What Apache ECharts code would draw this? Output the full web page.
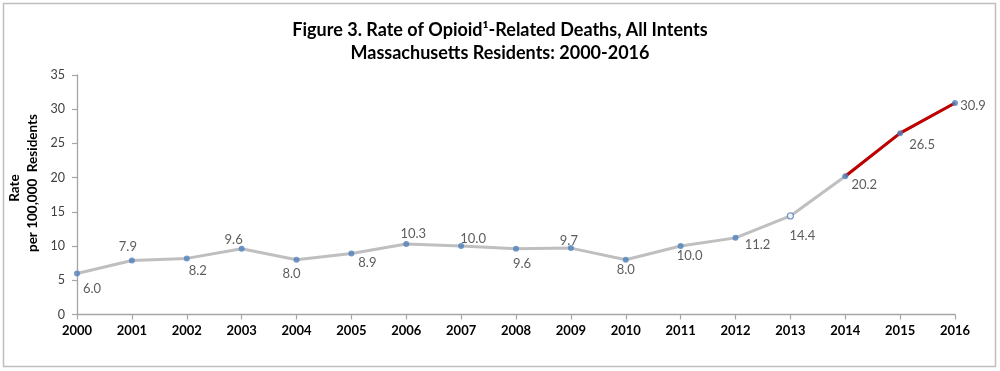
<!DOCTYPE html>
<html><head><meta charset="utf-8">
<script src="https://cdn.jsdelivr.net/npm/echarts@6/dist/echarts.min.js"></script>
<style>html,body{margin:0;padding:0;background:#fff}#c{width:1000px;height:371px}</style>
</head><body><div id="c"></div>
<script>
var years = ['2000','2001','2002','2003','2004','2005','2006','2007','2008','2009','2010','2011','2012','2013','2014','2015','2016'];
var rates = [6.0,7.9,8.2,9.6,8.0,8.9,10.3,10.0,9.6,9.7,8.0,10.0,11.2,14.4,20.2,26.5,30.9];
var redStart = 14; // 2014 onward drawn in red
var yTicks = [0,5,10,15,20,25,30,35];
// label offsets (style only): [dx, dy] from the point
var labelOffsets = [[15,15],[-4,-14],[11,12],[-8,-9],[-5,14],[16,9],[7,-10],[12,-7],[6,15],[-2,-7],[0,10],[9,10],[22,7],[12,20],[19,9],[22,12],[18,3]];
var hollow = [13];

var chart = echarts.init(document.getElementById('c'), null, {renderer:'canvas'});
var FONT = 'Lato';
var redData = rates.map(function(v,i){return i>=redStart? v : null;});
var pts = rates.map(function(v,i){
  var o = {value:v, label:{offset:labelOffsets[i]}};
  if (hollow.indexOf(i)>=0) o.itemStyle = {color:'#fff', borderColor:'#4F81BD', borderWidth:1.2};
  return o;
});
chart.setOption({
  animation:false,
  textStyle:{fontFamily:FONT},
  title:{
    text:'Figure 3. Rate of Opioid¹-Related Deaths, All Intents\nMassachusetts Residents: 2000-2016',
    left:'center', top:14,
    textStyle:{fontFamily:FONT, fontSize:18, fontWeight:'bold', color:'#000', lineHeight:23}
  },
  grid:{left:77, right:45, top:75, bottom:56.5, containLabel:false},
  xAxis:{
    type:'category', data:years, boundaryGap:false,
    axisLine:{lineStyle:{color:'#A6A6A6', width:1.3}},
    axisTick:{show:true, alignWithLabel:true, length:5, lineStyle:{color:'#A6A6A6', width:1.2}},
    axisLabel:{fontFamily:FONT, fontSize:13, fontWeight:'bold', color:'#000', margin:10}
  },
  yAxis:{
    type:'value', min:0, max:35, interval:5,
    axisLine:{show:true, lineStyle:{color:'#A6A6A6', width:1.3}},
    axisTick:{show:true, length:5, lineStyle:{color:'#A6A6A6', width:1.2}},
    splitLine:{show:false},
    axisLabel:{fontFamily:FONT, fontSize:12.5, color:'#404040', margin:12,
      formatter:function(v){return yTicks.indexOf(v)>=0? String(v):'';}}
  },
  graphic:[
    {type:'rect', shape:{x:3.5,y:3.5,width:992,height:363}, style:{fill:'none', stroke:'#BFBFBF', lineWidth:1.5}, silent:true},
    {type:'text', x:15, y:188, rotation:Math.PI/2, style:{text:'Rate', font:'bold 13.5px '+FONT, fill:'#000', align:'center', verticalAlign:'middle'}},
    {type:'text', x:33, y:183, rotation:Math.PI/2, style:{text:'per 100,000  Residents', font:'bold 13.5px '+FONT, fill:'#000', align:'center', verticalAlign:'middle'}}
  ],
  series:[
    {type:'line', data:rates, symbol:'none', lineStyle:{color:'#BFBFBF', width:3}, z:1},
    {type:'line', data:redData, symbol:'none', connectNulls:false, lineStyle:{color:'#C00000', width:3}, z:2},
    {type:'scatter', data:pts, symbol:'circle', symbolSize:6, itemStyle:{color:'#4F81BD'}, z:3,
      label:{show:true, position:'inside', color:'#333333', fontFamily:FONT, fontSize:13,
        formatter:function(p){return p.value.toFixed(1);}}}
  ]
});
</script></body></html>
